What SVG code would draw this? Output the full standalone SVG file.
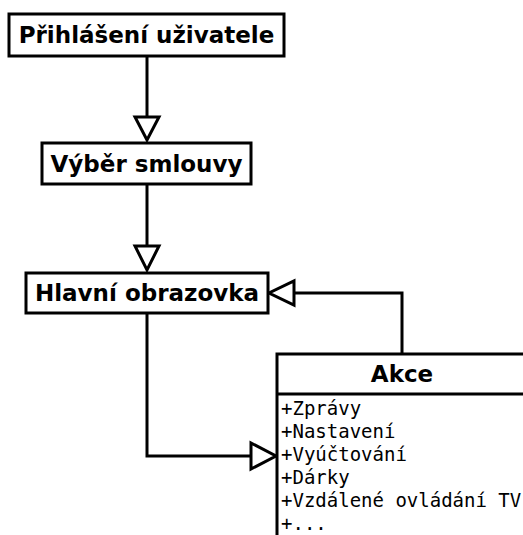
<svg xmlns="http://www.w3.org/2000/svg" width="523" height="535" viewBox="0 0 523 535">
<style>
.box{fill:#fff;stroke:#000;stroke-width:3}
.t{font-family:"DejaVu Sans",sans-serif;font-weight:bold;font-size:23px;fill:#000;text-anchor:middle}
.m{font-family:"DejaVu Sans Mono",monospace;font-size:19px;fill:#000}
.c{fill:none;stroke:#000;stroke-width:3}
.ah{fill:#fff;stroke:#000;stroke-width:3;stroke-linejoin:miter}
</style>
<rect width="523" height="535" fill="#fff"/>
<g id="connectors">
<path class="c" d="M147,56 V117"/>
<polygon class="ah" points="135,117 159,117 147,140"/>
<path class="c" d="M147,184 V246"/>
<polygon class="ah" points="135,246 159,246 147,270"/>
<path class="c" d="M402,354 V293 H294"/>
<polygon class="ah" points="294,281 294,305 269,293"/>
<path class="c" d="M147,313 V456 H251"/>
<polygon class="ah" points="251,443 251,469 276,456"/>
</g>
<g id="prihlaseni">
<rect class="box" x="9" y="14" width="275" height="42"/>
<text class="t" x="146.5" y="43">Přihlášení uživatele</text>
</g>
<g id="vyber">
<rect class="box" x="42" y="143" width="209" height="41"/>
<text class="t" x="146.5" y="172">Výběr smlouvy</text>
</g>
<g id="hlavni">
<rect class="box" x="26" y="273" width="242" height="40"/>
<text class="t" x="147" y="301">Hlavní obrazovka</text>
</g>
<g id="akce">
<rect class="box" x="277" y="354" width="260" height="200"/>
<line x1="277" y1="394" x2="523" y2="394" stroke="#000" stroke-width="3"/>
<text class="t" x="402" y="382">Akce</text>
<text class="m" x="281" y="415">+Zprávy</text>
<text class="m" x="281" y="438">+Nastavení</text>
<text class="m" x="281" y="461">+Vyúčtování</text>
<text class="m" x="281" y="484">+Dárky</text>
<text class="m" x="281" y="507">+Vzdálené ovládání TV</text>
<text class="m" x="281" y="530">+...</text>
</g>
</svg>
